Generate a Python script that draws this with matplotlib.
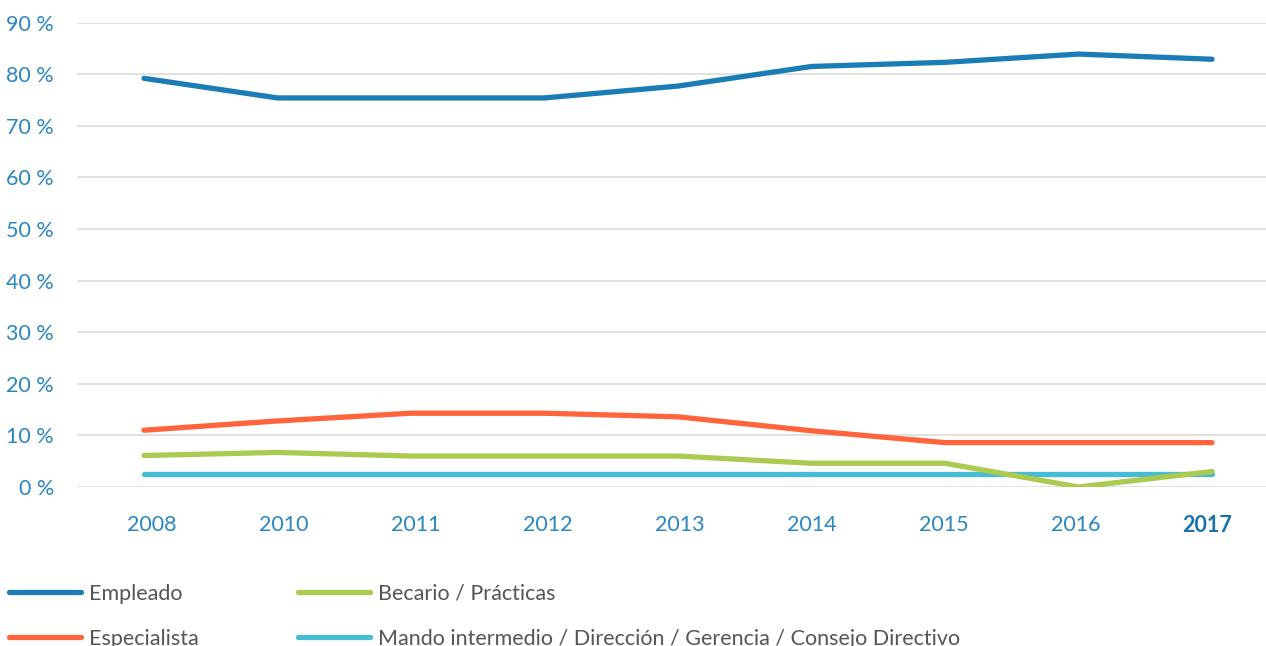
import matplotlib.pyplot as plt
from matplotlib.transforms import ScaledTranslation

years = ["2008", "2010", "2011", "2012", "2013", "2014", "2015", "2016", "2017"]

empleado = [79.2, 75.4, 75.4, 75.4, 77.7, 81.5, 82.3, 83.9, 82.9]
especialista = [11.0, 12.8, 14.3, 14.3, 13.6, 10.9, 8.6, 8.6, 8.6]
becario = [6.1, 6.7, 6.0, 6.0, 6.0, 4.6, 4.6, 0.0, 3.0]
mando = [2.5, 2.5, 2.5, 2.5, 2.5, 2.5, 2.5, 2.5, 2.5]

y_ticks = [0, 10, 20, 30, 40, 50, 60, 70, 80, 90]

blue = "#1b7db6"
tick_blue = "#2a86c2"

plt.rcParams["font.family"] = ["Lato", "DejaVu Sans"]

W, H = 1266, 646
fig = plt.figure(figsize=(W / 100, H / 100), dpi=100)
ax = fig.add_axes([77 / W, 159 / H, (W - 77) / W, (487 - 22.6) / H])

x = list(range(len(years)))
lw = 3.8
kw = dict(lw=lw, solid_capstyle="round", solid_joinstyle="round")
ax.plot(x, empleado, color=blue, label="Empleado", zorder=3, **kw)
ax.plot(x, especialista, color="#ff643c", label="Especialista", zorder=3, **kw)
ax.plot(x, mando, color="#46bcd6", zorder=3,
        label="Mando intermedio / Dirección / Gerencia / Consejo Directivo", **kw)
ax.plot(x, becario, color="#abca50", label="Becario / Prácticas", zorder=4, **kw)

# point spacing from the reference
sp = (1212 - 144) / 8
ax.set_xlim(-(144 - 77) / sp, 8 + (1266 - 1212) / sp)
ax.set_ylim(0, 90)

ax.set_yticks(y_ticks)
ax.set_yticklabels([f"{t} %" for t in y_ticks])
ax.set_xticks(x)
ax.set_xticklabels(years)

ax.tick_params(axis="y", length=0, pad=16.5, labelsize=15.5, labelcolor=tick_blue)
ax.tick_params(axis="x", length=0, pad=20, labelsize=15.5, labelcolor=tick_blue)

# year labels sit on a slightly different spacing than the points
for i, lab in enumerate(ax.get_xticklabels()):
    dx = (8 - 1.6 * i) / 100
    lab.set_transform(lab.get_transform() + ScaledTranslation(dx, 0, fig.dpi_scale_trans))
    if lab.get_text() == "2017":
        lab.set_fontweight("bold")
        lab.set_color("#1a72aa")

ax.grid(axis="y", color="#dcdcdc", lw=1.2)
ax.set_axisbelow(True)
for s in ax.spines.values():
    s.set_visible(False)

h, l = ax.get_legend_handles_labels()
order = [0, 1, 3, 2]
leg = fig.legend([h[i] for i in order], [l[i] for i in order], ncol=2,
                 loc="upper left", bbox_to_anchor=(9 / W, 1 - 584 / H),
                 frameon=False, fontsize=15.5, handlelength=3.35, handletextpad=0.38,
                 columnspacing=4.6, labelspacing=1.14, borderpad=0, borderaxespad=0)
for t in leg.get_texts():
    t.set_color("#555555")

fig.savefig("out.png", dpi=100)
